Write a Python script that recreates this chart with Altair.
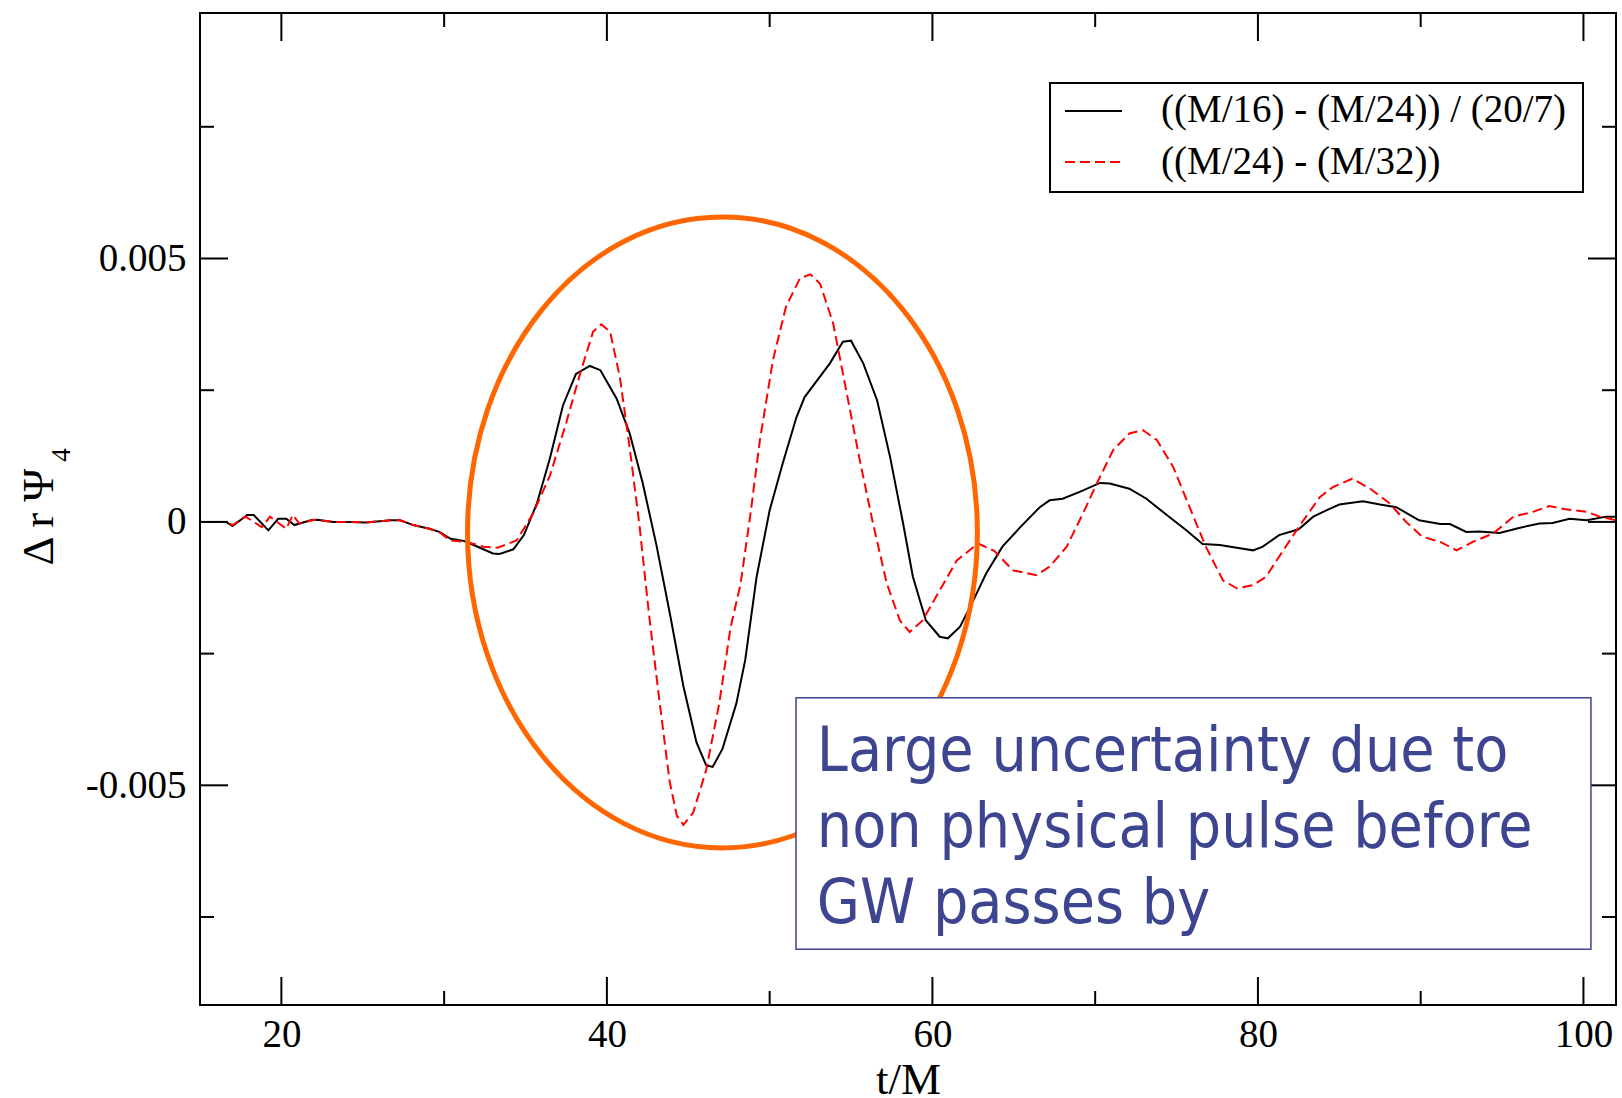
import altair as alt
import pandas as pd

# ---- waveform differences, Delta r Psi_4 against t/M ----
t_fine = [15.0, 16.6, 17.0, 17.9, 18.3, 19.2, 19.8, 20.3, 20.8, 21.8, 22.2, 23.2, 24.2, 25.2,
          26.7, 27.3, 28.1, 29.1, 29.7, 30.4, 31.2, 31.6, 32.2, 33.0, 33.4, 34.25, 34.9, 35.7,
          36.5, 37.3, 38.1, 38.95, 39.6, 40.6, 41.4, 42.2, 43.05, 43.9, 44.7, 45.5, 46.1, 46.5,
          47.1, 47.95, 48.5, 49.2, 50.0, 50.8, 51.65, 52.15, 53.0, 53.7, 54.5, 55.0, 55.75, 56.6,
          57.4, 58.2, 58.8, 59.6, 60.45, 60.95, 61.7, 62.5, 63.3, 64.3, 65.4, 66.6, 67.2, 68.0,
          69.05, 70.3, 70.9, 72.1, 73.15, 74.4, 75.6, 76.6, 77.65, 78.7, 79.7, 80.3, 81.3, 82.5,
          83.4, 84.2, 85.0, 86.45, 87.5, 88.5, 89.9, 91.2, 91.8, 92.8, 93.6, 94.85, 96.1, 97.3,
          98.1, 99.15, 100.2, 101.4, 102.0]
d_fine = [0.0, 0.0, -0.00008, 0.00013, 0.00013, -0.00016, 0.00006, 0.00006, -0.00006, 0.00003,
          0.00004, 0.0, 0.0, -0.00001, 0.00003, 0.00003, -0.00006, -0.00013, -0.00019, -0.00032,
          -0.00036, -0.00041, -0.00049, -0.00060, -0.00061, -0.00052, -0.00025, 0.00035, 0.00121,
          0.00221, 0.00281, 0.00296, 0.00288, 0.00234, 0.00168, 0.00074, -0.00045, -0.00179,
          -0.00312, -0.00418, -0.00462, -0.00465, -0.00431, -0.00345, -0.00262, -0.00104, 0.00022,
          0.00111, 0.00199, 0.00237, 0.00272, 0.00301, 0.00342, 0.00344, 0.00301, 0.00231, 0.00123,
          -0.00003, -0.00104, -0.00187, -0.00218, -0.00221, -0.00199, -0.00150, -0.00098, -0.00047,
          -0.00010, 0.00028, 0.00041, 0.00044, 0.00057, 0.00074, 0.00073, 0.00063, 0.00044, 0.00013,
          -0.00016, -0.00042, -0.00044, -0.00049, -0.00054, -0.00047, -0.00025, -0.00014, 0.00010,
          0.00022, 0.00033, 0.00039, 0.00033, 0.00028, 0.00003, -0.00004, -0.00004, -0.00019,
          -0.00018, -0.00021, -0.00011, -0.00003, -0.00002, 0.00006, 0.00003, 0.00010, 0.00010]

t_coarse = [15.0, 16.6, 17.0, 17.8, 18.8, 19.3, 20.3, 20.7, 21.1, 22.0, 23.2, 24.2, 25.2, 26.7,
            27.3, 28.1, 29.1, 29.7, 30.35, 31.4, 32.4, 33.3, 34.45, 35.45, 36.5, 37.5, 38.35,
            39.15, 39.65, 40.2, 40.8, 41.4, 42.0, 42.6, 43.25, 43.85, 44.3, 44.7, 45.3, 46.1, 46.9,
            47.6, 48.2, 48.8, 49.4, 50.2, 51.0, 51.85, 52.5, 53.1, 53.9, 54.7, 55.5, 56.35, 57.2,
            58.0, 58.6, 59.4, 60.45, 61.5, 62.8, 63.8, 64.95, 66.4, 67.2, 68.25, 69.25, 70.1, 71.1,
            72.1, 72.95, 73.8, 74.8, 75.8, 76.8, 77.85, 78.7, 79.7, 80.5, 81.3, 82.5, 83.8, 84.6,
            85.8, 86.9, 88.1, 89.1, 90.1, 91.2, 92.2, 93.2, 94.45, 95.7, 96.9, 97.9, 98.9, 100.2,
            101.0, 102.0]
d_coarse = [0.0, 0.0, -0.00006, 0.00010, -0.00010, 0.00010, -0.00013, 0.00013, -0.00003, 0.00004,
            0.0, 0.0, -0.00001, 0.00003, 0.00003, -0.00006, -0.00013, -0.00019, -0.00035, -0.00038,
            -0.00047, -0.00049, -0.00035, 0.00015, 0.00088, 0.00188, 0.00281, 0.00361, 0.00375,
            0.00361, 0.00274, 0.00141, -0.00006, -0.00179, -0.00345, -0.00492, -0.00558, -0.00575,
            -0.00552, -0.00471, -0.00345, -0.00200, -0.00120, 0.00010, 0.00155, 0.00307, 0.00408,
            0.00462, 0.00470, 0.00452, 0.00377, 0.00250, 0.00123, -0.00003, -0.00117, -0.00187,
            -0.00209, -0.00187, -0.00130, -0.00073, -0.00041, -0.00055, -0.00092, -0.00101, -0.00085,
            -0.00047, 0.00016, 0.00073, 0.00136, 0.00168, 0.00174, 0.00155, 0.00104, 0.00028,
            -0.00047, -0.00111, -0.00126, -0.00120, -0.00104, -0.00066, -0.00010, 0.00047, 0.00066,
            0.00082, 0.00063, 0.00035, 0.0, -0.00028, -0.00038, -0.00054, -0.00038, -0.00022,
            0.00010, 0.00019, 0.00030, 0.00024, 0.00019, 0.00010, 0.00003]

series_names = ["((M/16) - (M/24)) / (20/7)", "((M/24) - (M/32))"]

# axis ticks
x_major = [20, 40, 60, 80, 100]
x_minor = [30, 50, 70, 90]
y_major = [-0.005, 0.0, 0.005]
y_minor = [-0.0075, -0.0025, 0.0025, 0.0075]

# annotation: highlighted region and note box (data coordinates)
ring_center = {"t": [47.1], "v": [-0.0002]}
note_box = {"t": [51.62], "t2": [100.46], "v": [-0.00334], "v2": [-0.00811]}
note_lines = ["Large uncertainty due to", "non physical pulse before", "GW passes by"]
note_x = [52.9, 52.9, 52.9]
note_y = [-0.00473, -0.00617, -0.00761]

W, H = 1416, 992
SERIF = "Liberation Serif"
NOTE_FONT = "DejaVu Sans Condensed"
NOTE_COLOR = "#3e4590"
RING_COLOR = "#ff6600"

X = alt.X("t:Q",
          scale=alt.Scale(domain=[15, 102], nice=False, zero=False),
          axis=alt.Axis(values=x_major, ticks=False, domain=False, grid=False,
                        labelFont=SERIF, labelFontSize=39, labelColor="black",
                        labelPadding=10, labelFlush=False,
                        title="t/M", titleFont=SERIF, titleFontSize=45,
                        titleFontWeight="normal", titleColor="black",
                        titleX=W / 2, titleY=88, titleAlign="center",
                        titleBaseline="alphabetic"))
Y = alt.Y("v:Q",
          scale=alt.Scale(domain=[-0.00917, 0.00966], nice=False, zero=False),
          axis=alt.Axis(values=y_major, ticks=False, domain=False, grid=False,
                        labelFont=SERIF, labelFontSize=39, labelColor="black",
                        labelPadding=14, labelFlush=False,
                        labelExpr="datum.value == 0 ? '0' : (datum.value < 0 ? '-' : '') + format(abs(datum.value), '.3f')",
                        title="\u0394 r \u03a8", titleFont=SERIF, titleFontSize=45,
                        titleFontWeight="normal", titleColor="black",
                        titleAngle=270, titleX=-148, titleY=503.5, titleAlign="center",
                        titleBaseline="alphabetic"))

fine_df = pd.DataFrame({"t": t_fine, "v": d_fine})
coarse_df = pd.DataFrame({"t": t_coarse, "v": d_coarse})

line_fine = alt.Chart(fine_df).mark_line(color="black", strokeWidth=2).encode(x=X, y=Y)
line_coarse = alt.Chart(coarse_df).mark_line(color="red", strokeWidth=2, strokeDash=[10, 5]).encode(x=X, y=Y)

# inward-pointing ticks on all four sides
def xticks(values, length):
    df = pd.DataFrame({"t": values})
    bottom = alt.Chart(df).mark_rule(color="black", strokeWidth=2).encode(
        x=X, y=alt.value(H), y2=alt.value(H - length))
    top = alt.Chart(df).mark_rule(color="black", strokeWidth=2).encode(
        x=X, y=alt.value(0), y2=alt.value(length))
    return [bottom, top]

def yticks(values, length):
    df = pd.DataFrame({"v": values})
    left = alt.Chart(df).mark_rule(color="black", strokeWidth=2).encode(
        y=Y, x=alt.value(0), x2=alt.value(length))
    right = alt.Chart(df).mark_rule(color="black", strokeWidth=2).encode(
        y=Y, x=alt.value(W), x2=alt.value(W - length))
    return [left, right]

ticks = xticks(x_major, 28) + xticks(x_minor, 14) + yticks(y_major, 28) + yticks(y_minor, 14)

# ellipse outline as a custom symbol (unit height, narrower width)
ellipse_path = ("M0,-1C0.4463,-1,0.808,-0.5523,0.808,0C0.808,0.5523,0.4463,1,0,1"
                "C-0.4463,1,-0.808,0.5523,-0.808,0C-0.808,-0.5523,-0.4463,-1,0,-1Z")
ring = alt.Chart(pd.DataFrame(ring_center)).mark_point(
    shape=ellipse_path, size=631 ** 2, filled=False, stroke=RING_COLOR,
    strokeWidth=5, opacity=1).encode(x=X, y=Y)

box = alt.Chart(pd.DataFrame(note_box)).mark_rect(
    fill="white", stroke=NOTE_COLOR, strokeWidth=1.5).encode(
    x=X, x2="t2:Q", y=Y, y2="v2:Q")

note = alt.Chart(pd.DataFrame({"t": note_x, "v": note_y, "label": note_lines})).mark_text(
    align="left", baseline="alphabetic", font=NOTE_FONT, fontSize=62,
    color=NOTE_COLOR).encode(x=X, y=Y, text="label:N")

# subscript of the y title
sub4 = alt.Chart(pd.DataFrame({"s": ["4"]})).mark_text(
    font=SERIF, fontSize=27, angle=270, align="center", baseline="alphabetic",
    color="black").encode(x=alt.value(-130), y=alt.value(442), text="s:N")

# legend box
one = pd.DataFrame({"k": [0]})
leg_frame = alt.Chart(one).mark_rect(fill="white", stroke="black", strokeWidth=2).encode(
    x=alt.value(850), x2=alt.value(1383), y=alt.value(70), y2=alt.value(179))
leg_line1 = alt.Chart(one).mark_rule(color="black", strokeWidth=2).encode(
    x=alt.value(865), x2=alt.value(922), y=alt.value(98))
leg_line2 = alt.Chart(one).mark_rule(color="red", strokeWidth=2, strokeDash=[10, 5]).encode(
    x=alt.value(865), x2=alt.value(922), y=alt.value(149))
leg_text1 = alt.Chart(pd.DataFrame({"name": [series_names[0]]})).mark_text(
    align="left", baseline="alphabetic", font=SERIF, fontSize=39, color="black").encode(
    x=alt.value(961), y=alt.value(109), text="name:N")
leg_text2 = alt.Chart(pd.DataFrame({"name": [series_names[1]]})).mark_text(
    align="left", baseline="alphabetic", font=SERIF, fontSize=39, color="black").encode(
    x=alt.value(961), y=alt.value(161), text="name:N")

chart = alt.layer(
    line_fine, line_coarse, *ticks, ring, box, note,
    leg_frame, leg_line1, leg_line2, leg_text1, leg_text2, sub4
).properties(
    width=W, height=H,
    autosize=alt.AutoSizeParams(type="none"),
    padding={"left": 200, "top": 13, "right": 6, "bottom": 93},
    background="white",
).configure_view(stroke="black", strokeWidth=2)

chart.save("out.html", embed_options={"renderer": "svg", "actions": False})
